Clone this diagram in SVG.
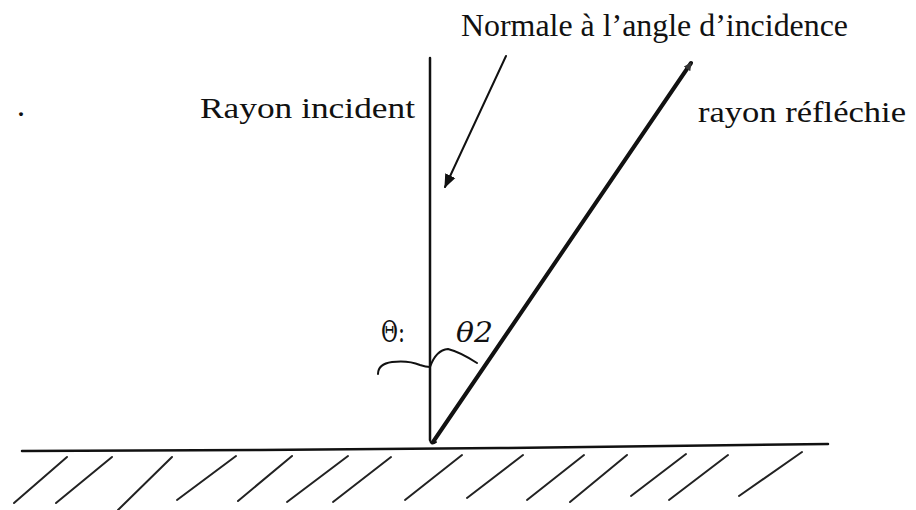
<svg xmlns="http://www.w3.org/2000/svg" width="916" height="510" viewBox="0 0 916 510">
<style>
.t{font-family:"Liberation Serif","Times New Roman",serif;fill:#111}
.g{font-family:"DejaVu Serif","Liberation Serif",serif;fill:#111}
.ln{stroke:#111;fill:none;stroke-linecap:round}
.hatch{stroke:#222;stroke-width:2;fill:none;stroke-linecap:round}
</style>
<defs>
<marker id="ah" viewBox="0 0 10 10" refX="9" refY="5" markerWidth="8" markerHeight="8" orient="auto" markerUnits="userSpaceOnUse">
<path d="M0,0 L10,5 L0,10 z" fill="#333"/>
</marker>
<marker id="ah2" viewBox="0 0 10 10" refX="9" refY="5" markerWidth="14" markerHeight="14" orient="auto" markerUnits="userSpaceOnUse">
<path d="M0,1 L10,5 L0,9 z" fill="#111"/>
</marker>
</defs>
<rect width="916" height="510" fill="#fff"/>
<g id="labels">
<text class="t" x="461" y="36" font-size="32" textLength="387" lengthAdjust="spacingAndGlyphs">Normale à l’angle d’incidence</text>
<text class="t" x="200" y="118" font-size="30" textLength="215" lengthAdjust="spacingAndGlyphs">Rayon incident</text>
<text class="t" x="698" y="122" font-size="30" textLength="208" lengthAdjust="spacingAndGlyphs">rayon réfléchie</text>
<text class="t" x="18" y="116" font-size="24" font-weight="bold">.</text>
<text class="g" x="381" y="342" font-size="30" textLength="24" lengthAdjust="spacingAndGlyphs">Θ:</text>
<text class="g" x="456" y="342" font-size="28" font-style="italic" textLength="37" lengthAdjust="spacingAndGlyphs">θ2</text>
</g>
<g id="connectors">
<line class="ln" x1="430" y1="58" x2="430" y2="440" stroke-width="2.5"/>
<path class="ln" d="M430,440 Q431,446 436,442" stroke-width="2"/>
<line class="ln" x1="506" y1="56" x2="445" y2="187" stroke-width="2" marker-end="url(#ah2)"/>
<line class="ln" x1="433" y1="442" x2="691" y2="63" stroke-width="4" stroke="#444" marker-end="url(#ah)"/>
<path class="ln" d="M378,374 Q378,364 392,362 Q408,360 420,365 Q426,367 430,367" stroke-width="2"/>
<path class="ln" d="M430,367 Q436,350 448,349 Q460,352 477,363" stroke-width="2"/>
</g>
<g id="ground">
<path class="ln" d="M22,451 L260,450 L500,448 L828,444" stroke-width="2.5"/>
<g class="hatch">
<line x1="14" y1="503" x2="67" y2="457"/>
<line x1="56" y1="503" x2="112" y2="457"/>
<line x1="118" y1="510" x2="172" y2="457"/>
<line x1="177" y1="500" x2="236" y2="456"/>
<line x1="238" y1="501" x2="292" y2="456"/>
<line x1="287" y1="502" x2="348" y2="456"/>
<line x1="333" y1="502" x2="391" y2="457"/>
<line x1="405" y1="500" x2="462" y2="455"/>
<line x1="467" y1="498" x2="523" y2="455"/>
<line x1="527" y1="500" x2="584" y2="455"/>
<line x1="570" y1="502" x2="627" y2="455"/>
<line x1="631" y1="496" x2="686" y2="454"/>
<line x1="669" y1="500" x2="728" y2="455"/>
<line x1="739" y1="496" x2="802" y2="452"/>
</g>
</g>
</svg>
